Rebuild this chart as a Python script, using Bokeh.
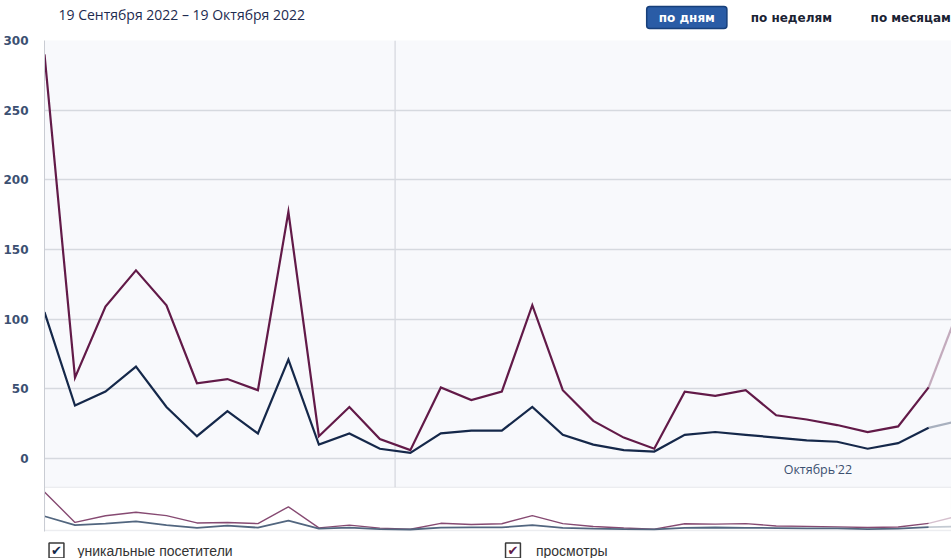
from bokeh.plotting import figure
from bokeh.layouts import column
from bokeh.models import Range1d, FixedTicker, Label, BoxAnnotation, ColumnDataSource
from bokeh.embed import file_html
from bokeh.resources import INLINE

# ---- data -------------------------------------------------------------
days = ["19.09", "20.09", "21.09", "22.09", "23.09", "24.09", "25.09", "26.09",
        "27.09", "28.09", "29.09", "30.09", "01.10", "02.10", "03.10", "04.10",
        "05.10", "06.10", "07.10", "08.10", "09.10", "10.10", "11.10", "12.10",
        "13.10", "14.10", "15.10", "16.10", "17.10", "18.10", "19.10"]
views = [290, 58, 109, 135, 110, 54, 57, 49, 177, 16, 37, 14, 6, 51, 42, 48,
         110, 49, 27, 15, 7, 48, 45, 49, 31, 28, 24, 19, 23, 51, 108]
visitors = [105, 38, 48, 66, 37, 16, 34, 18, 71, 10, 18, 7, 4, 18, 20, 20,
            37, 17, 10, 6, 5, 17, 19, 17, 15, 13, 12, 7, 11, 22, 27]
y_ticks = [0, 50, 100, 150, 200, 250, 300]
period_title = "19 Сентября 2022 – 19 Октября 2022"
buttons = ["по дням", "по неделям", "по месяцам"]
month_label = "Октябрь'22"
series_names = ["уникальные посетители", "просмотры"]
month_start = "01.10"

# ---- colours ----------------------------------------------------------
C_VIEWS = "#621a48"
C_VIS = "#15284a"
C_NAV_VIEWS = "#864a72"
C_NAV_VIS = "#52667f"
C_GRID = "#d6d9df"
C_TICK = "#3c5072"

W = 951
LEFT = 43

idx = list(range(len(days)))
n_done = len(days) - 1  # last day is incomplete -> faded

src_main = ColumnDataSource(dict(x=idx[:n_done], v=views[:n_done], u=visitors[:n_done]))
src_last = ColumnDataSource(dict(x=idx[n_done - 1:], v=views[n_done - 1:], u=visitors[n_done - 1:]))


def blank(height, y_top):
    f = figure(width=W, height=height, x_range=Range1d(LEFT, W),
               y_range=Range1d(y_top + height, y_top),
               output_backend="svg", toolbar_location=None,
               x_axis_location=None, y_axis_location=None,
               min_border_left=LEFT, min_border_right=0,
               min_border_top=0, min_border_bottom=0,
               background_fill_color="white", border_fill_color="white",
               outline_line_color=None)
    f.grid.visible = False
    return f


def lab(fig, x, y, text, **kw):
    base = dict(x=x, y=y, text=text, text_baseline="middle", text_align="left",
                text_font="Open Sans", text_font_size="13px")
    base.update(kw)
    fig.add_layout(Label(**base))


# ---- header -----------------------------------------------------------
head = blank(32, 0)
lab(head, 57, 14, period_title, text_color="#1d2b4f", text_font_size="14px")
lab(head, 686, 17, buttons[0], text_align="center", text_font="DejaVu Sans",
    text_font_style="bold", text_font_size="12px", text_color="white",
    background_fill_color="#2a5ca6", border_line_color="#173f7a", border_line_width=1.5,
    padding=(12, 4), border_radius=3)
lab(head, 750, 17, buttons[1], text_font="DejaVu Sans", text_font_style="bold",
    text_font_size="12px", text_color="#1b2333")
lab(head, 870, 17, buttons[2], text_font="DejaVu Sans", text_font_style="bold",
    text_font_size="12px", text_color="#1b2333")

# ---- main chart + navigator ------------------------------------------
p = figure(width=W, height=504,
           x_range=Range1d(0, 29.75), y_range=Range1d(-52.4, 300),
           output_backend="svg", toolbar_location=None,
           x_axis_location=None, y_axis_location="left",
           min_border_left=LEFT, min_border_right=0,
           min_border_top=8, min_border_bottom=5,
           background_fill_color="#f8f9fc", border_fill_color="white",
           outline_line_color=None)

p.extra_y_ranges = {"nav": Range1d(-11.4, 3735), "py": Range1d(0, 491)}
p.extra_x_ranges = {"px": Range1d(0, 908)}

p.yaxis.ticker = FixedTicker(ticks=y_ticks)
p.yaxis.axis_line_color = "#c9ccd3"
p.yaxis.major_tick_line_color = None
p.yaxis.minor_tick_line_color = None
p.yaxis.major_label_standoff = 10
p.yaxis.major_label_text_font = "DejaVu Sans"
p.yaxis.major_label_text_font_style = "bold"
p.yaxis.major_label_text_font_size = "12px"
p.yaxis.major_label_text_color = C_TICK
p.xgrid.visible = False
p.ygrid.ticker = FixedTicker(ticks=y_ticks)
p.ygrid.grid_line_color = C_GRID
p.ygrid.grid_line_width = 1.3

# navigator panel (white, bordered)
p.add_layout(BoxAnnotation(top=-20.8, bottom=-51.6, fill_color="white", fill_alpha=1,
                           line_color="#c6cad2", line_width=1.2, level="underlay"))

# month separator
m = days.index(month_start) - 0.5
p.segment(x0=[m], y0=[-20.8], x1=[m], y1=[300], line_color=C_GRID, line_width=1.3,
          level="underlay")

# main lines
p.line("x", "v", source=src_main, line_color=C_VIEWS, line_width=2.2, line_join="miter")
p.line("x", "u", source=src_main, line_color=C_VIS, line_width=2.2, line_join="miter")
p.line("x", "v", source=src_last, line_color=C_VIEWS, line_width=2.2, line_alpha=0.35)
p.line("x", "u", source=src_last, line_color=C_VIS, line_width=2.2, line_alpha=0.35)

# navigator lines
p.line("x", "v", source=src_main, y_range_name="nav", line_color=C_NAV_VIEWS, line_width=1.4)
p.line("x", "u", source=src_main, y_range_name="nav", line_color=C_NAV_VIS, line_width=1.8)
p.line("x", "v", source=src_last, y_range_name="nav", line_color=C_NAV_VIEWS, line_width=1.4, line_alpha=0.35)
p.line("x", "u", source=src_last, y_range_name="nav", line_color=C_NAV_VIS, line_width=1.8, line_alpha=0.35)

p.add_layout(Label(x=740, y=62, x_range_name="px", y_range_name="py", text=month_label,
                   text_baseline="middle", text_align="left", text_font="Open Sans",
                   text_font_size="12.5px", text_color="#3b5070"))

# ---- legend -----------------------------------------------------------
leg = blank(22, 536)
lab(leg, 55, 550, "✔", text_align="center", text_font="DejaVu Sans",
    text_font_size="13px", text_color=C_VIS, background_fill_color="white",
    border_line_color="#3a3a3a", border_line_width=1.5, padding=(2, 0))
lab(leg, 76, 550, series_names[0], text_font="Liberation Sans", text_font_size="14px",
    text_color="#333333")
lab(leg, 512, 550, "✔", text_align="center", text_font="DejaVu Sans",
    text_font_size="13px", text_color=C_VIEWS, background_fill_color="white",
    border_line_color="#3a3a3a", border_line_width=1.5, padding=(2, 0))
lab(leg, 535, 550, series_names[1], text_font="Liberation Sans", text_font_size="14px",
    text_color="#333333")

layout = column(head, p, leg, spacing=0)
open("out.html", "w").write(file_html(layout, INLINE))
